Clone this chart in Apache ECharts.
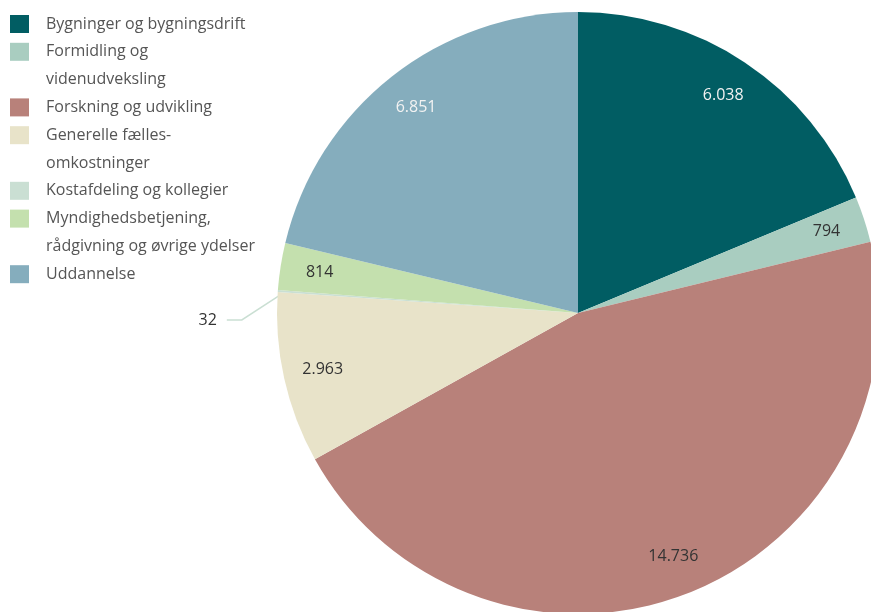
<!DOCTYPE html>
<html>
<head>
<meta charset="utf-8">
<script src="https://cdn.jsdelivr.net/npm/echarts@6/dist/echarts.min.js"></script>
<style>
  html, body { margin: 0; padding: 0; background: #ffffff; }
  #chart { width: 871px; height: 612px; }
</style>
</head>
<body>
<div id="chart"></div>
<script>
// Expenditure by purpose (in thousands)
const categories = [
  'Bygninger og bygningsdrift',
  'Formidling og videnudveksling',
  'Forskning og udvikling',
  'Generelle fælles-omkostninger',
  'Kostafdeling og kollegier',
  'Myndighedsbetjening, rådgivning og øvrige ydelser',
  'Uddannelse'
];
// Legend text as it wraps in the key
const legendLabels = [
  'Bygninger og bygningsdrift',
  'Formidling og\nvidenudveksling',
  'Forskning og udvikling',
  'Generelle fælles-\nomkostninger',
  'Kostafdeling og kollegier',
  'Myndighedsbetjening,\nrådgivning og øvrige ydelser',
  'Uddannelse'
];
const values = [6038, 794, 14736, 2963, 32, 814, 6851];
const colors = ['#015d63', '#a9cdc0', '#b8817a', '#e8e3c9', '#cadfd3', '#c4e0ae', '#85adbd'];
const lightLabel = [true, false, false, false, false, false, true];

const fmt = v => String(v).replace(/\B(?=(\d{3})+(?!\d))/g, '.');

const CENTER = [578, 313];
const R = 301;
const SMALL = 32; // slices this small get an outside label with a leader line

const chart = echarts.init(document.getElementById('chart'));

// Hand-built key: square swatch on the first line of each entry
const legendEls = [];
let row = 0;
const rowH = 27.8;
categories.forEach((c, i) => {
  const cy = 24 + row * rowH;
  legendEls.push({
    type: 'rect',
    shape: { x: 10, y: cy - 9, width: 19, height: 18 },
    style: { fill: colors[i] }
  });
  legendEls.push({
    type: 'text',
    x: 46, y: cy - rowH / 2,
    style: {
      text: legendLabels[i],
      fill: '#555555',
      font: '16px "Open Sans"',
      lineHeight: rowH,
      verticalAlign: 'top',
      align: 'left'
    }
  });
  row += legendLabels[i].split('\n').length;
});

// Leader line: leave the rim, drop down-left, then run horizontally to the label
function smallLabelLayout(p) {
  if (values[p.dataIndex] > SMALL || !p.labelLinePoints) return;
  const start = p.labelLinePoints[0];
  const endY = start[1] + 29;
  const bend = [start[0] - 36, endY];
  const end = [start[0] - 51, endY];
  return {
    x: end[0] - 10,
    y: endY,
    align: 'right',
    verticalAlign: 'middle',
    labelLinePoints: [[start[0] + 1, start[1] + 5], bend, end]
  };
}

const option = {
  animation: false,
  backgroundColor: '#ffffff',
  graphic: legendEls,
  series: [
    {
      type: 'pie',
      center: CENTER,
      radius: [0, R],
      startAngle: 90,
      clockwise: true,
      avoidLabelOverlap: false,
      silent: true,
      itemStyle: { borderWidth: 0 },
      label: { show: false },
      labelLine: { show: false },
      labelLayout: smallLabelLayout,
      data: categories.map((c, i) => ({
        name: c,
        value: values[i],
        itemStyle: { color: colors[i] },
        label: values[i] <= SMALL ? {
          show: true,
          position: 'outside',
          formatter: p => fmt(p.value),
          color: '#333333',
          fontFamily: 'Open Sans',
          fontSize: 16
        } : { show: false },
        labelLine: values[i] <= SMALL ? {
          show: true, length: 14, length2: 16,
          lineStyle: { color: colors[i], width: 1.5 }
        } : { show: false }
      }))
    },
    {
      // transparent ring used to place value labels near the rim
      type: 'pie',
      center: CENTER,
      radius: [216, R],
      startAngle: 90,
      clockwise: true,
      silent: true,
      itemStyle: { color: 'rgba(0,0,0,0)' },
      labelLine: { show: false },
      data: categories.map((c, i) => ({
        name: c,
        value: values[i],
        label: {
          show: values[i] > SMALL,
          position: 'inside',
          formatter: p => fmt(p.value),
          color: lightLabel[i] ? '#f2f2f2' : '#333333',
          fontFamily: 'Open Sans',
          fontSize: 16
        }
      }))
    }
  ]
};

chart.setOption(option);
</script>
</body>
</html>
